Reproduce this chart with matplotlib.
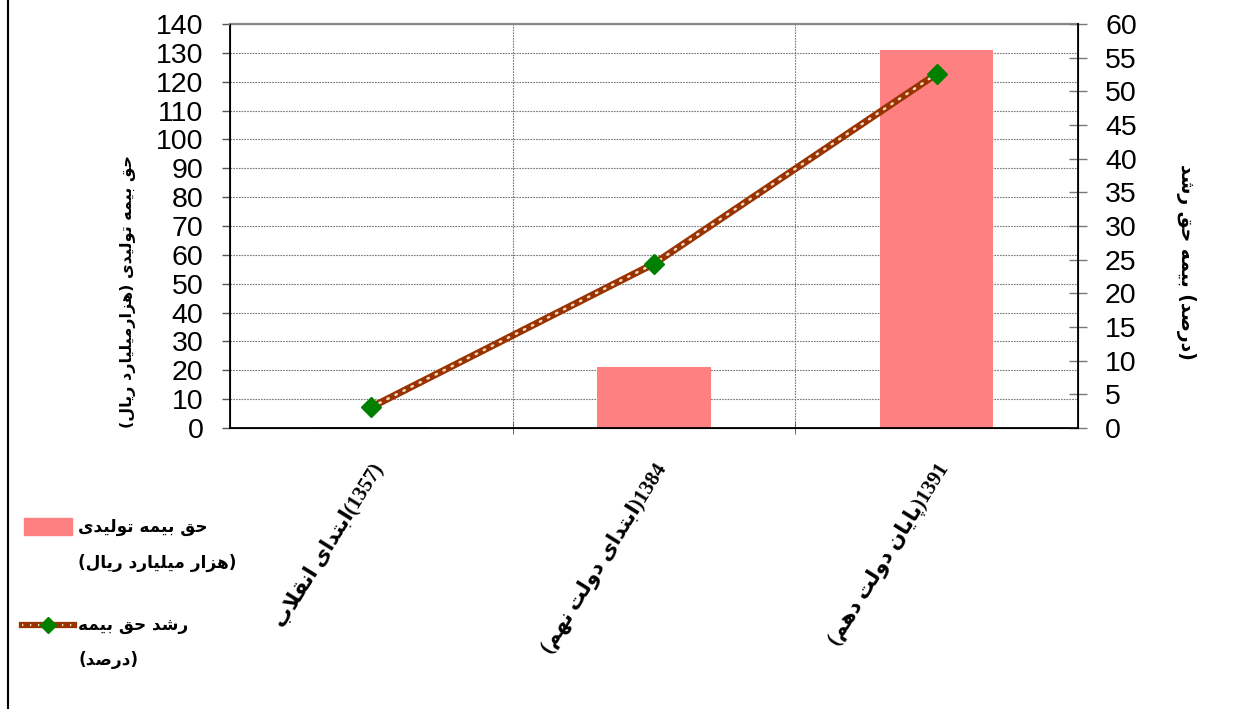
import numpy as np
import matplotlib
matplotlib.use('Agg')
import matplotlib.pyplot as plt
import matplotlib.transforms as mtransforms
from matplotlib.patches import Rectangle
from matplotlib.lines import Line2D

# داده‌ها
years = ['1357', '1384', '1391']
premium = [0.3, 21.2, 131.0]      # حق بیمه تولیدی (هزار میلیارد ریال)
growth = [3.1, 24.4, 52.6]        # رشد حق بیمه (درصد)
left_ticks = list(range(0, 141, 10))
right_ticks = list(range(0, 61, 5))

# شکل‌دهی ساده حروف فارسی (matplotlib خودش اتصال حروف را انجام نمی‌دهد)
FORMS = {
    'ا': (0xFE8D, 0xFE8E, None, None),
    'ب': (0xFE8F, 0xFE90, 0xFE91, 0xFE92),
    'پ': (0xFB56, 0xFB57, 0xFB58, 0xFB59),
    'ت': (0xFE95, 0xFE96, 0xFE97, 0xFE98),
    'ح': (0xFEA1, 0xFEA2, 0xFEA3, 0xFEA4),
    'د': (0xFEA9, 0xFEAA, None, None),
    'ر': (0xFEAD, 0xFEAE, None, None),
    'ز': (0xFEAF, 0xFEB0, None, None),
    'ش': (0xFEB5, 0xFEB6, 0xFEB7, 0xFEB8),
    'ص': (0xFEB9, 0xFEBA, 0xFEBB, 0xFEBC),
    'ق': (0xFED5, 0xFED6, 0xFED7, 0xFED8),
    'ل': (0xFEDD, 0xFEDE, 0xFEDF, 0xFEE0),
    'م': (0xFEE1, 0xFEE2, 0xFEE3, 0xFEE4),
    'ن': (0xFEE5, 0xFEE6, 0xFEE7, 0xFEE8),
    'ه': (0xFEE9, 0xFEEA, 0xFEEB, 0xFEEC),
    'و': (0xFEED, 0xFEEE, None, None),
    'ی': (0xFBFC, 0xFBFD, 0xFBFE, 0xFBFF),
}


def joins_forward(c):
    return c in FORMS and FORMS[c][2] is not None


def shape(text):
    out = []
    i = 0
    while i < len(text):
        c = text[i]
        prev = text[i - 1] if i > 0 else ''
        jp = joins_forward(prev)
        if c == 'ل' and i + 1 < len(text) and text[i + 1] == 'ا':
            out.append(chr(0xFEFC if jp else 0xFEFB))
            i += 2
            continue
        if c in FORMS:
            nxt = text[i + 1] if i + 1 < len(text) else ''
            jn = joins_forward(c) and nxt in FORMS
            iso, fin, ini, med = FORMS[c]
            if jp and jn:
                code = med
            elif jp:
                code = fin
            elif jn:
                code = ini
            else:
                code = iso
            out.append(chr(code))
        else:
            out.append(c)
        i += 1
    return ''.join(out)


def rtl(text):
    s = shape(text)[::-1]
    return s.translate(str.maketrans({'(': ')', ')': '('}))


ar_font = ['DejaVu Sans']
num_font = 'Liberation Sans'

fig = plt.figure(figsize=(12.38, 7.09), dpi=100)
ax = fig.add_axes([230 / 1238, 1 - 428 / 709, 848 / 1238, 404 / 709])
ax2 = ax.twinx()

x = np.arange(len(years))
ax.bar(x, premium, width=0.4, color='#FF8080', zorder=2)

ax2.plot(x, growth, color='#993300', linewidth=5, solid_capstyle='butt', zorder=3)
ax2.plot(x, growth, color='#F4D9C8', linewidth=1.8, linestyle=(0, (0.6, 3.0)),
         dash_capstyle='round', zorder=4)
ax2.plot(x, growth, linestyle='none', marker='D', markersize=10,
         color='#008000', zorder=5)

ax.set_xlim(-0.5, 2.5)
ax.set_ylim(0, 140)
ax2.set_ylim(0, 60)
ax.set_yticks(left_ticks)
ax2.set_yticks(right_ticks)

ax.set_axisbelow(True)
ax.yaxis.grid(True, color='#777777', linestyle=(0, (1.5, 1)), linewidth=0.8)
ax.set_xticks([0.5, 1.5], minor=True)
ax.xaxis.grid(True, which='minor', color='#777777', linestyle=(0, (1.5, 1)), linewidth=0.8)

for lab in ax.get_yticklabels() + ax2.get_yticklabels():
    lab.set_fontfamily(num_font)
    lab.set_fontsize(20.5)
ax.tick_params(axis='y', direction='out', length=6, width=1, color='#555555', pad=13)
ax2.tick_params(axis='y', direction='inout', length=13, width=1, color='#777777', pad=13)
ax.tick_params(axis='x', which='minor', direction='inout', length=8, color='#555555')

# برچسب‌های محور افقی
xlabels = [rtl('ابتدای انقلاب') + '(1357)',
           rtl('(ابتدای دولت نهم)') + '1384',
           rtl('(پایان دولت دهم)') + '1391']
ax.set_xticks(x)
ax.set_xticklabels(xlabels, rotation=58, ha='right', va='center',
                   rotation_mode='anchor', fontsize=15, fontweight='bold',
                   family=['Liberation Serif', 'DejaVu Sans'])
ax.tick_params(axis='x', which='major', length=0, pad=27)
offset = mtransforms.ScaledTranslation(8 / 100, 0, fig.dpi_scale_trans)
for lab in ax.get_xticklabels():
    lab.set_transform(lab.get_transform() + offset)

for side in ['left', 'bottom']:
    ax.spines[side].set_color('black')
    ax.spines[side].set_linewidth(1.3)
ax.spines['top'].set_color('#888888')
ax.spines['top'].set_linewidth(1.6)
ax2.spines['right'].set_color('black')
ax2.spines['right'].set_linewidth(1.3)
ax2.spines['top'].set_visible(False)

# عنوان محورها
fig.text(128 / 1238, 1 - 292 / 709, rtl('حق بیمه تولیدی (هزارمیلیارد ریال)'),
         rotation=90, ha='center', va='center', fontsize=11.5, fontweight='bold',
         family=ar_font)
right_label = ' '.join(rtl(w) for w in ['رشد', 'حق', 'بیمه']) + ' ' + rtl('(درصد)')
fig.text(1186 / 1238, 1 - 262 / 709, right_label,
         rotation=270, ha='center', va='center', fontsize=13.5, fontweight='bold',
         family=ar_font)

# راهنما
fig.patches.append(Rectangle((24 / 1238, 1 - 535 / 709), 48 / 1238, 17 / 709,
                             transform=fig.transFigure, color='#FF8080'))
fig.lines.append(Line2D([22 / 1238, 74 / 1238], [1 - 625 / 709] * 2,
                        transform=fig.transFigure, color='#993300', linewidth=4.5))
fig.lines.append(Line2D([22 / 1238, 74 / 1238], [1 - 625 / 709] * 2,
                        transform=fig.transFigure, color='#F4D9C8', linewidth=1.6,
                        linestyle=(0, (0.6, 3.0))))
fig.lines.append(Line2D([48 / 1238], [1 - 625 / 709], transform=fig.transFigure,
                        linestyle='none', marker='D', markersize=8, color='#008000'))
legend_texts = [(527, rtl('حق بیمه تولیدی')),
                (563, rtl('(هزار میلیارد ریال)')),
                (625, rtl('رشد حق بیمه')),
                (660, rtl('(درصد)'))]
for ypx, txt in legend_texts:
    fig.text(78 / 1238, 1 - ypx / 709, txt, ha='left', va='center', fontsize=12.2,
             fontweight='bold', family=ar_font)

# خط کادر سمت چپ
fig.lines.append(Line2D([8 / 1238, 8 / 1238], [0, 1], transform=fig.transFigure,
                        color='black', linewidth=1.5))

fig.savefig('out.png', dpi=100)
